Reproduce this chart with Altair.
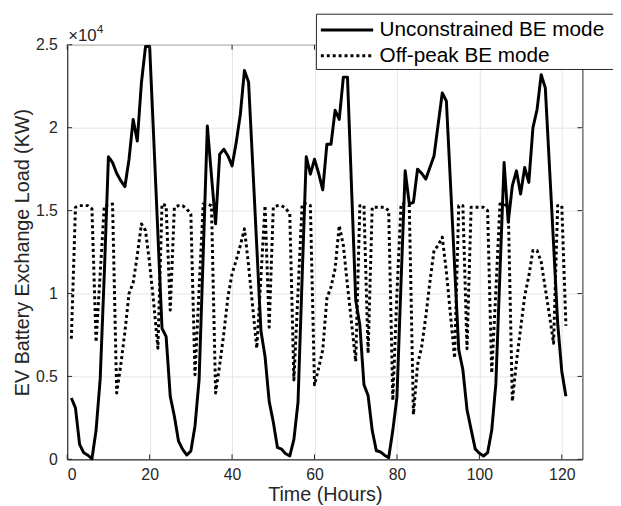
import altair as alt
import pandas as pd

hours = list(range(1, 122))

unconstrained = [
    3700, 3100, 900, 400, 250, 30, 1750, 4850, 11200, 18250, 17900, 17250,
    16800, 16450, 18100, 20500, 19200, 22700, 24900, 24900, 19300, 13600, 7900, 7400,
    3800, 2600, 1100, 600, 260, 500, 2000, 4800, 12400, 20100, 17100, 14200,
    18400, 18700, 18300, 17700, 19100, 20800, 23450, 22750, 17800, 12800, 7750, 6200,
    3500, 2250, 715, 620, 340, 200, 1200, 3450, 11000, 18250, 17200, 18100,
    17250, 16250, 19000, 19000, 21050, 20500, 23050, 23050, 16300, 9600, 8100, 4500,
    3850, 1750, 520, 450, 250, 100, 1750, 3750, 10700, 17400, 15400, 15500,
    17500, 17250, 16900, 17600, 18300, 20200, 22100, 21600, 16600, 11600, 6600, 5400,
    3000, 1800, 620, 370, 200, 400, 1750, 4550, 11300, 17900, 14300, 16500,
    17400, 16000, 17600, 16700, 20000, 21100, 23200, 22400, 17700, 13000, 8200, 5300, 3800,
]

offpeak = [
    7270, 15200, 15300, 15300, 15300, 15100, 7070, 11200, 15300, 15300, 15400, 4000,
    5700, 7700, 10000, 10650, 12300, 14200, 13800, 11800, 9400, 6700, 15400, 15300,
    9000, 15200, 15300, 15300, 15100, 14800, 5100, 10300, 15400, 15400, 15300, 4000,
    5700, 7600, 9800, 11200, 12000, 12900, 13900, 11700, 9200, 6700, 11000, 15300,
    7970, 15200, 15300, 15300, 15150, 14800, 4790, 10100, 15400, 15400, 15300, 4490,
    5500, 6600, 9700, 10400, 11500, 14100, 12900, 10500, 8200, 5900, 15300, 15300,
    6400, 15200, 15200, 15200, 15200, 15000, 3550, 10000, 15400, 15400, 15300, 2700,
    5700, 6800, 8600, 10700, 12600, 12900, 13400, 11300, 8700, 6100, 15300, 15300,
    6670, 15200, 15200, 15200, 15200, 15000, 5200, 10150, 15400, 15400, 15200, 3500,
    5880, 7870, 9850, 11050, 12600, 12600, 11900, 10300, 8700, 7000, 15300, 15300, 8060,
]

series_names = ["Unconstrained BE mode", "Off-peak BE mode"]
x_ticks = [0, 20, 40, 60, 80, 100, 120]
y_ticks = [0, 5000, 10000, 15000, 20000, 25000]

df = pd.DataFrame({
    "hour": hours + hours,
    "load": unconstrained + offpeak,
    "series": [series_names[0]] * len(hours) + [series_names[1]] * len(hours),
})

W, H = 522, 420
FONT = "Liberation Sans"
AX = "#262626"

xscale = alt.Scale(domain=[0, 125], nice=False, zero=False)
yscale = alt.Scale(domain=[0, 25000], nice=False)

lines = alt.Chart(df).mark_line(color="black", strokeWidth=3, strokeJoin="round").encode(
    x=alt.X("hour:Q", scale=xscale,
            axis=alt.Axis(values=x_ticks, title="Time (Hours)", grid=True,
                          labelPadding=7, titleY=36, titleBaseline="middle")),
    y=alt.Y("load:Q", scale=yscale,
            axis=alt.Axis(values=y_ticks, labelExpr="datum.value / 10000",
                          title="EV Battery Exchange Load (KW)", grid=True,
                          labelPadding=10, titleX=-45, titleY=H / 2, titleAngle=270,
                          titleAlign="center", titleBaseline="middle")),
    strokeDash=alt.StrokeDash("series:N",
                              scale=alt.Scale(domain=series_names, range=[[1, 0], [3, 3]]),
                              legend=None),
    detail="series:N",
)

xt = pd.DataFrame({"hour": x_ticks})
yt = pd.DataFrame({"load": y_ticks})
tick_len = 5
bottom_ticks = alt.Chart(xt).mark_rule(color=AX, strokeWidth=1).encode(
    x=alt.X("hour:Q", scale=xscale), y=alt.value(H), y2=alt.value(H - tick_len))
top_ticks = alt.Chart(xt).mark_rule(color=AX, strokeWidth=1).encode(
    x=alt.X("hour:Q", scale=xscale), y=alt.value(0), y2=alt.value(tick_len))
left_ticks = alt.Chart(yt).mark_rule(color=AX, strokeWidth=1).encode(
    y=alt.Y("load:Q", scale=yscale), x=alt.value(0), x2=alt.value(tick_len))
right_ticks = alt.Chart(yt).mark_rule(color=AX, strokeWidth=1).encode(
    y=alt.Y("load:Q", scale=yscale), x=alt.value(W), x2=alt.value(W - tick_len))

one = pd.DataFrame({"a": [0]})
expo = alt.Chart(one).mark_text(align="left", baseline="alphabetic", fontSize=17,
                                font=FONT, color=AX).encode(
    x=alt.value(1), y=alt.value(-4), text=alt.value("×10"))
expo4 = alt.Chart(one).mark_text(align="left", baseline="alphabetic", fontSize=12,
                                 font=FONT, color=AX).encode(
    x=alt.value(30), y=alt.value(-12), text=alt.value("4"))

# legend
LX0, LY0, LY1 = 252.5, -31, 25
legend_box = alt.Chart(one).mark_rect(fill="white", stroke=AX, strokeWidth=1).encode(
    x=alt.value(LX0), x2=alt.value(W + 60), y=alt.value(LY0), y2=alt.value(LY1))
row_y = [-15, 11]
dashes = [[1, 0], [3, 3]]
legend_layers = []
for i, name in enumerate(series_names):
    d = pd.DataFrame({"name": [name]})
    legend_layers.append(
        alt.Chart(d).mark_rule(color="black", strokeWidth=3, strokeDash=dashes[i]).encode(
            x=alt.value(LX0 + 4.5), x2=alt.value(LX0 + 57.5), y=alt.value(row_y[i])))
    legend_layers.append(
        alt.Chart(d).mark_text(align="left", baseline="middle", fontSize=21, font=FONT,
                               color="black").encode(
            x=alt.value(LX0 + 64), y=alt.value(row_y[i]), text="name:N"))

chart = alt.layer(
    lines, bottom_ticks, top_ticks, left_ticks, right_ticks, expo, expo4,
    legend_box, *legend_layers,
).properties(
    width=W, height=H,
    padding={"left": 60, "top": 34, "right": 31, "bottom": 44},
    autosize=alt.AutoSizeParams(type="none"),
    background="white",
).configure_view(
    stroke=AX, strokeWidth=1,
).configure_axis(
    domainColor=AX, labelColor=AX, titleColor=AX,
    labelFont=FONT, titleFont=FONT, labelFontSize=16, titleFontSize=20,
    titleFontWeight="normal", gridColor="#e6e6e6", ticks=False, tickSize=0,
    domainWidth=1,
)

chart.save("out.html", embed_options={"renderer": "svg", "actions": False})
